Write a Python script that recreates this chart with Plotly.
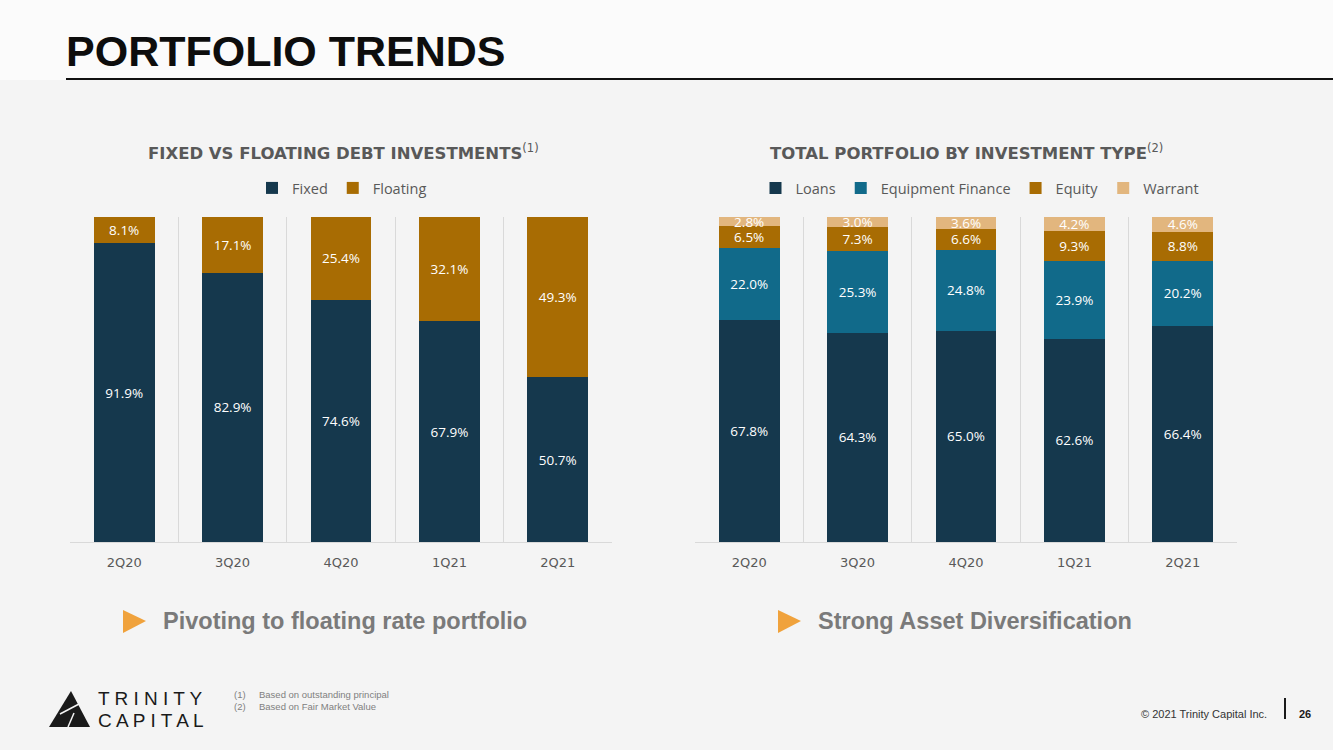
import plotly.graph_objects as go

# Data
quarters = ["2Q20", "3Q20", "4Q20", "1Q21", "2Q21"]

fixed = [91.9, 82.9, 74.6, 67.9, 50.7]
floating = [8.1, 17.1, 25.4, 32.1, 49.3]

loans = [67.8, 64.3, 65.0, 62.6, 66.4]
equipment_finance = [22.0, 25.3, 24.8, 23.9, 20.2]
equity = [6.5, 7.3, 6.6, 9.3, 8.8]
warrant = [2.8, 3.0, 3.6, 4.2, 4.6]

NAVY = "#15384d"
TEAL = "#116a8a"
GOLD = "#a86c03"
SAND = "#e2b67e"
GRAY_TXT = "#595959"
LABEL_FONT = dict(family="Open Sans", size=13.5, color="white")


def px_x(x):
    return x / 1333


def px_y(y):
    return 1 - y / 750


def bar(name, values, color, xaxis, yaxis, legend):
    return go.Bar(
        x=quarters, y=values, name=name,
        marker=dict(color=color, line=dict(width=0)),
        text=[f"{v:.1f}%" for v in values],
        textposition="inside", insidetextanchor="middle",
        textangle=0, constraintext="none", textfont=LABEL_FONT,
        xaxis=xaxis, yaxis=yaxis, legend=legend,
        hoverinfo="skip",
    )


fig = go.Figure()

# Left chart: fixed vs floating
fig.add_trace(bar("Fixed", fixed, NAVY, "x", "y", "legend"))
fig.add_trace(bar("Floating", floating, GOLD, "x", "y", "legend"))

# Right chart: by investment type
fig.add_trace(bar("Loans", loans, NAVY, "x2", "y2", "legend2"))
fig.add_trace(bar("Equipment Finance", equipment_finance, TEAL, "x2", "y2", "legend2"))
fig.add_trace(bar("Equity", equity, GOLD, "x2", "y2", "legend2"))
fig.add_trace(bar("Warrant", warrant, SAND, "x2", "y2", "legend2"))

xaxis_style = dict(
    type="category", tickson="boundaries", showgrid=True,
    gridcolor="#d9d9d9", gridwidth=1, showline=True, linecolor="#d9d9d9",
    ticks="", tickfont=dict(family="DejaVu Sans", size=13, color=GRAY_TXT),
    ticklabelstandoff=8, fixedrange=True,
)
yaxis_style = dict(range=[0, 100], visible=False, fixedrange=True)

legend_style = dict(
    orientation="h", xanchor="center", yanchor="middle", y=px_y(188),
    font=dict(family="Open Sans", size=14.5, color=GRAY_TXT),
    bgcolor="rgba(0,0,0,0)", itemwidth=30, traceorder="normal",
)

fig.update_layout(
    width=1333, height=750,
    margin=dict(l=0, r=0, t=0, b=0),
    paper_bgcolor="#f4f4f4", plot_bgcolor="rgba(0,0,0,0)",
    barmode="stack", barnorm="percent", bargap=0.44,
    showlegend=True,
    xaxis=dict(domain=[px_x(70), px_x(612)], anchor="y", **xaxis_style),
    yaxis=dict(domain=[px_y(542), px_y(217)], anchor="x", **yaxis_style),
    xaxis2=dict(domain=[px_x(695), px_x(1237)], anchor="y2", **xaxis_style),
    yaxis2=dict(domain=[px_y(542), px_y(217)], anchor="x2", **yaxis_style),
    legend=dict(x=px_x(342), **legend_style),
    legend2=dict(x=px_x(980), **legend_style),
)

annotations = [
    # page title
    dict(text="<b>PORTFOLIO TRENDS</b>", x=px_x(64), y=px_y(51), xanchor="left",
         yanchor="middle", font=dict(family="Liberation Sans", size=43, color="#0d0d0d")),
    # chart titles
    dict(text="<b>FIXED VS FLOATING DEBT INVESTMENTS</b><sup>(1)</sup>", x=px_x(343),
         y=px_y(152), xanchor="center", yanchor="middle",
         font=dict(family="DejaVu Sans", size=16.5, color=GRAY_TXT)),
    dict(text="<b>TOTAL PORTFOLIO BY INVESTMENT TYPE</b><sup>(2)</sup>", x=px_x(966),
         y=px_y(152), xanchor="center", yanchor="middle",
         font=dict(family="DejaVu Sans", size=16.5, color=GRAY_TXT)),
    # takeaways
    dict(text="<b>Pivoting to floating rate portfolio</b>", x=px_x(161), y=px_y(621),
         xanchor="left", yanchor="middle",
         font=dict(family="Liberation Sans", size=23.5, color="#7a7a7a")),
    dict(text="<b>Strong Asset Diversification</b>", x=px_x(816), y=px_y(621),
         xanchor="left", yanchor="middle",
         font=dict(family="Liberation Sans", size=23.5, color="#7a7a7a")),
    # footnotes
    dict(text="(1)", x=px_x(232), y=px_y(694), xanchor="left", yanchor="middle",
         font=dict(family="Liberation Sans", size=9.5, color="#808080")),
    dict(text="Based on outstanding principal", x=px_x(257), y=px_y(694), xanchor="left",
         yanchor="middle", font=dict(family="Liberation Sans", size=9.5, color="#808080")),
    dict(text="(2)", x=px_x(232), y=px_y(706), xanchor="left", yanchor="middle",
         font=dict(family="Liberation Sans", size=9.5, color="#808080")),
    dict(text="Based on Fair Market Value", x=px_x(257), y=px_y(706), xanchor="left",
         yanchor="middle", font=dict(family="Liberation Sans", size=9.5, color="#808080")),
    # logo text
    dict(text="T R I N I T Y", x=px_x(96), y=px_y(698), xanchor="left", yanchor="middle",
         font=dict(family="Liberation Sans", size=19, color="#1a1a1a")),
    dict(text="C A P I T A L", x=px_x(96), y=px_y(720), xanchor="left", yanchor="middle",
         font=dict(family="Liberation Sans", size=19, color="#1a1a1a")),
    # footer
    dict(text="© 2021 Trinity Capital Inc.", x=px_x(1269), y=px_y(714), xanchor="right",
         yanchor="middle", font=dict(family="Liberation Sans", size=11, color="#333333")),
    dict(text="<b>26</b>", x=px_x(1297), y=px_y(714), xanchor="left", yanchor="middle",
         font=dict(family="Liberation Sans", size=11, color="#1a1a1a")),
]
for a in annotations:
    a.update(xref="paper", yref="paper", showarrow=False)
fig.update_layout(annotations=annotations)


def tri_path(x0, y0, x1, y1, x2, y2):
    return (f"M {px_x(x0)} {px_y(y0)} L {px_x(x1)} {px_y(y1)} "
            f"L {px_x(x2)} {px_y(y2)} Z")


shapes = [
    # header band and rule
    dict(type="rect", x0=0, x1=1, y0=px_y(80), y1=1, fillcolor="#fbfbfb", line_width=0,
         layer="below"),
    dict(type="line", x0=px_x(66), x1=1, y0=px_y(79), y1=px_y(79),
         line=dict(color="#111111", width=2)),
    # bullet triangles
    dict(type="path", path=tri_path(123, 610, 146, 621, 123, 633),
         fillcolor="#f0a23c", line_width=0),
    dict(type="path", path=tri_path(778, 610, 801, 621, 778, 633),
         fillcolor="#f0a23c", line_width=0),
    # logo mark
    dict(type="path", path=tri_path(49, 727, 71, 691, 90, 727),
         fillcolor="#1a1a1a", line_width=0),
    dict(type="line", x0=px_x(60), x1=px_x(79), y0=px_y(714), y1=px_y(704),
         line=dict(color="#f4f4f4", width=1.5)),
    dict(type="line", x0=px_x(68), x1=px_x(74), y0=px_y(727), y1=px_y(713),
         line=dict(color="#f4f4f4", width=1.5)),
    # footer divider
    dict(type="line", x0=px_x(1285), x1=px_x(1285), y0=px_y(698), y1=px_y(719),
         line=dict(color="#1a1a1a", width=2)),
]
for s in shapes:
    s.update(xref="paper", yref="paper")
fig.update_layout(shapes=shapes)

# drop the default page margin so the slide fills the window
fig.write_html("out.html", config={"displayModeBar": False},
               post_script="document.body.style.margin = '0px';")
